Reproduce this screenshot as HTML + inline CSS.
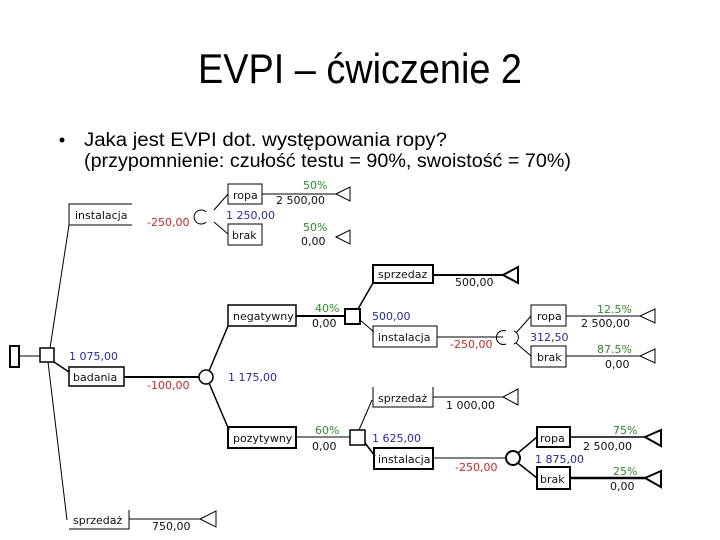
<!DOCTYPE html>
<html><head><meta charset="utf-8"><style>
html,body{margin:0;padding:0;background:#fff;}
svg{display:block;}
.t{font-family:"Liberation Sans",sans-serif;}
.s{font-family:"DejaVu Sans","Liberation Sans",sans-serif;font-size:11px;}
.r{fill:#c0282d}.b{fill:#2a2a9a}.g{fill:#2e8a2e}.k{fill:#111}
</style></head><body>
<svg width="720" height="540" viewBox="0 0 720 540" xmlns="http://www.w3.org/2000/svg">
<text class="t" x="198" y="83" font-size="42" textLength="324" lengthAdjust="spacingAndGlyphs">EVPI – ćwiczenie 2</text>
<circle cx="62" cy="140" r="2.5" fill="#000"/>
<text class="t" x="84" y="146" font-size="19" textLength="363" lengthAdjust="spacingAndGlyphs">Jaka jest EVPI dot. występowania ropy?</text>
<text class="t" x="84" y="167" font-size="19" textLength="487" lengthAdjust="spacingAndGlyphs">(przypomnienie: czułość testu = 90%, swoistość = 70%)</text>

<g stroke="#000" fill="none" stroke-width="1">
<!-- root -->
<rect x="10" y="346" width="9" height="21" stroke-width="2"/>
<line x1="19" y1="356" x2="40" y2="356"/>
<rect x="40" y="348" width="14" height="14" stroke-width="1.5"/>
<line x1="50" y1="348" x2="69" y2="225"/>
<line x1="48" y1="362" x2="67" y2="520"/>
<line x1="54" y1="362" x2="69" y2="372" stroke-width="1.5"/>
<!-- instalacja top -->
<polyline points="132,204 69,204 69,225 132,225"/>
<path d="M206,212 A7,7 0 1,0 206,222"/>
<line x1="214" y1="210" x2="228" y2="194"/>
<line x1="214" y1="222" x2="228" y2="234"/>
<rect x="228" y="184" width="34" height="20"/>
<line x1="262" y1="194" x2="336" y2="194"/>
<polygon points="336,194 350,187 350,201"/>
<rect x="228" y="224" width="34" height="21"/>
<polygon points="336,237 350,230 350,244"/>
<!-- badania -->
<rect x="69" y="367" width="55" height="19" stroke-width="1.5"/>
<line x1="124" y1="377" x2="199" y2="377" stroke-width="2"/>
<circle cx="206" cy="377" r="7" stroke-width="1.5"/>
<line x1="209" y1="371" x2="228" y2="326" stroke-width="1.5"/>
<line x1="209" y1="383" x2="229" y2="430" stroke-width="1.5"/>
<!-- negatywny -->
<rect x="228" y="305" width="68" height="21" stroke-width="1.5"/>
<line x1="296" y1="316" x2="345" y2="316" stroke-width="2"/>
<rect x="345" y="309" width="15" height="15" stroke-width="2"/>
<line x1="358" y1="309" x2="373" y2="283" stroke-width="1.5"/>
<line x1="360" y1="320" x2="374" y2="332"/>
<rect x="373" y="265" width="60" height="18" stroke-width="2"/>
<line x1="433" y1="275" x2="503" y2="275" stroke-width="2"/>
<polygon points="503,275 518,267 518,283" stroke-width="2"/>
<rect x="373" y="326" width="64" height="21"/>
<line x1="437" y1="337" x2="503" y2="337"/>
<path d="M506,331 A7,7 0 1,0 506,344"/><path d="M514,331 A7,7 0 0,1 514,344"/>
<line x1="516" y1="333" x2="531" y2="316"/>
<line x1="516" y1="343" x2="531" y2="356"/>
<rect x="531" y="305" width="35" height="21"/>
<line x1="566" y1="316" x2="640" y2="316"/>
<polygon points="640,316 655,309 655,323"/>
<rect x="531" y="346" width="35" height="21"/>
<line x1="566" y1="356" x2="640" y2="356"/>
<polygon points="640,356 655,349 655,363"/>
<!-- pozytywny -->
<polyline points="433,387 433,407 373,407 373,387"/>
<line x1="433" y1="397" x2="503" y2="397"/>
<polygon points="503,397 518,389 518,405"/>
<line x1="359" y1="430" x2="372" y2="400"/>
<rect x="228" y="427" width="68" height="21" stroke-width="2"/>
<line x1="296" y1="437" x2="350" y2="437"/>
<rect x="350" y="430" width="15" height="15" stroke-width="1.5"/>
<line x1="365" y1="443" x2="375" y2="456" stroke-width="1.5"/>
<rect x="374" y="448" width="59" height="21" stroke-width="2"/>
<line x1="433" y1="458" x2="506" y2="458"/>
<circle cx="513" cy="458" r="7" stroke-width="2"/>
<line x1="518" y1="453" x2="537" y2="437" stroke-width="1.5"/>
<line x1="518" y1="463" x2="537" y2="478" stroke-width="1.5"/>
<rect x="537" y="427" width="33" height="20" stroke-width="2"/>
<line x1="570" y1="437" x2="645" y2="437" stroke-width="1.5"/>
<polygon points="645,437 661,430 661,446" stroke-width="2"/>
<rect x="537" y="467" width="33" height="22" stroke-width="2"/>
<line x1="570" y1="478" x2="645" y2="478" stroke-width="2.5"/>
<polygon points="645,478 661,471 661,487" stroke-width="2"/>
<!-- sprzedaz bottom -->
<polyline points="129,510 129,529 69,529"/>
<line x1="129" y1="519" x2="200" y2="519"/>
<polygon points="200,519 216,511 216,527"/>
</g>

<g class="s">
<text class="k" x="75" y="219">instalacja</text>
<text class="r" x="147" y="226">-250,00</text>
<text class="k" x="233" y="199">ropa</text>
<text class="g" x="303" y="189">50%</text>
<text class="k" x="276" y="204">2 500,00</text>
<text class="b" x="226" y="219">1 250,00</text>
<text class="k" x="232" y="239">brak</text>
<text class="g" x="303" y="231">50%</text>
<text class="k" x="301" y="245">0,00</text>
<text class="b" x="69" y="360">1 075,00</text>
<text class="k" x="73" y="381">badania</text>
<text class="r" x="147" y="389">-100,00</text>
<text class="b" x="228" y="381">1 175,00</text>
<text class="k" x="233" y="320">negatywny</text>
<text class="g" x="315" y="312">40%</text>
<text class="k" x="312" y="327">0,00</text>
<text class="b" x="372" y="320">500,00</text>
<text class="k" x="378" y="278">sprzedaz</text>
<text class="k" x="455" y="286">500,00</text>
<text class="k" x="378" y="341">instalacja</text>
<text class="r" x="450" y="348">-250,00</text>
<text class="b" x="530" y="341">312,50</text>
<text class="k" x="537" y="320">ropa</text>
<text class="g" x="597" y="313">12.5%</text>
<text class="k" x="581" y="327">2 500,00</text>
<text class="k" x="537" y="361">brak</text>
<text class="g" x="597" y="353">87.5%</text>
<text class="k" x="605" y="368">0,00</text>
<text class="k" x="378" y="402">sprzedaż</text>
<text class="k" x="446" y="409">1 000,00</text>
<text class="k" x="233" y="442">pozytywny</text>
<text class="g" x="315" y="434">60%</text>
<text class="k" x="312" y="450">0,00</text>
<text class="b" x="372" y="442">1 625,00</text>
<text class="k" x="378" y="463">instalacja</text>
<text class="r" x="455" y="471">-250,00</text>
<text class="b" x="535" y="463">1 875,00</text>
<text class="k" x="540" y="442">ropa</text>
<text class="g" x="613" y="434">75%</text>
<text class="k" x="583" y="450">2 500,00</text>
<text class="k" x="540" y="483">brak</text>
<text class="g" x="613" y="475">25%</text>
<text class="k" x="610" y="490">0,00</text>
<text class="k" x="73" y="524">sprzedaż</text>
<text class="k" x="152" y="530">750,00</text>
</g>
</svg>
</body></html>
